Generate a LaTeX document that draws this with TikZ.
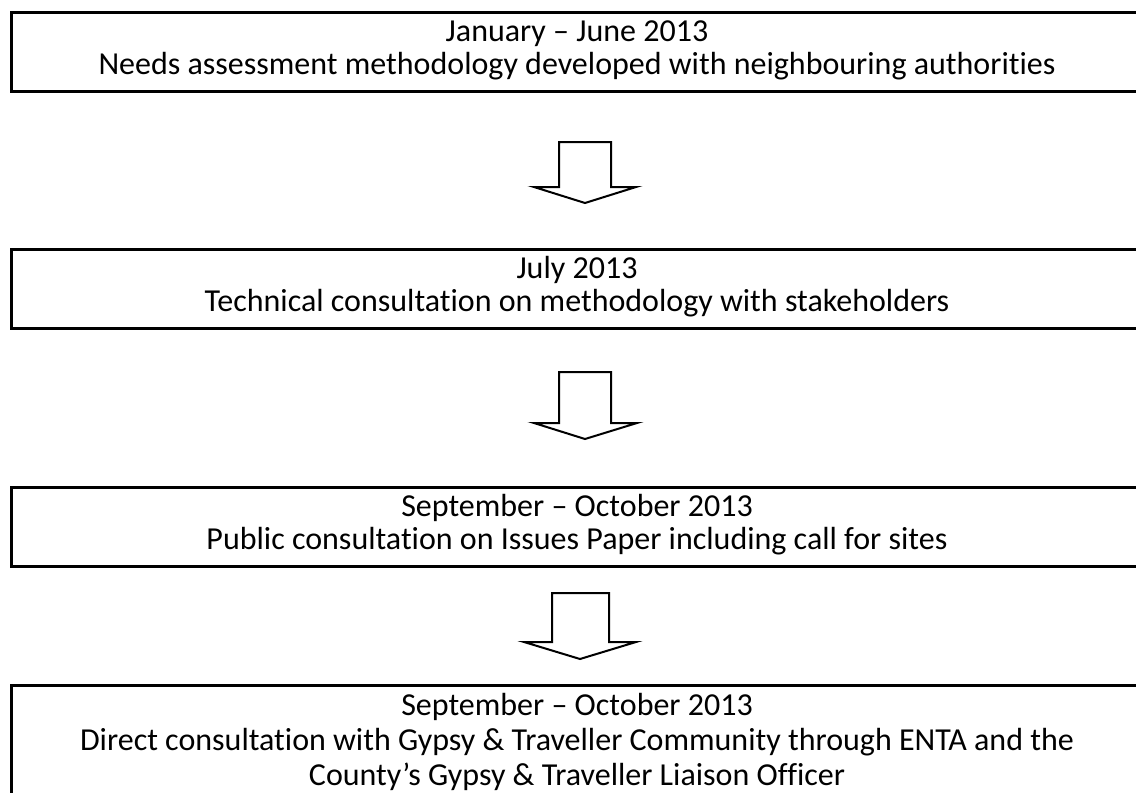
\documentclass[tikz,border=0pt]{standalone}
\usepackage{fontspec}
\setmainfont{Carlito}[Ligatures={NoCommon}]
\begin{document}
\begin{tikzpicture}[x=1pt,y=-1pt,
  stagebox/.style={draw=black,line width=3pt,rectangle,inner sep=0pt,anchor=north west,minimum width=1134pt,minimum height=79pt},
  stagetext/.style={anchor=base,inner sep=0pt,font=\fontsize{32}{33}\selectfont},
  blockarrow/.style={draw=black,line width=2pt,fill=white,line join=miter}]
\useasboundingbox (0,0) rectangle (1136,793);
\clip (0,0) rectangle (1136,793);
\fill[white] (0,0) rectangle (1136,793);
% boxes
\node[stagebox] (b1) at (10,11) {};
\node[stagebox] (b2) at (10,248) {};
\node[stagebox] (b3) at (10,486) {};
\node[stagebox,minimum height=140pt] (b4) at (10,684) {};
% texts
\node[stagetext] (t1a) at (577,41) {January – June 2013};
\node[stagetext] (t1b) at (577,74) {Needs assessment methodology developed with neighbouring authorities};
\node[stagetext] (t2a) at (577,278) {July 2013};
\node[stagetext] (t2b) at (577,311) {Technical consultation on methodology with stakeholders};
\node[stagetext] (t3a) at (577,516) {September – October 2013};
\node[stagetext] (t3b) at (577,549) {Public consultation on Issues Paper including call for sites};
\node[stagetext] (t4a) at (577,715) {September – October 2013};
\node[stagetext] (t4b) at (577,750) {Direct consultation with Gypsy \& Traveller Community through ENTA and the};
\node[stagetext] (t4c) at (577,785) {County’s Gypsy \& Traveller Liaison Officer};
% block arrows
\draw[blockarrow] (559,142) -- (611,142) -- (611,187) -- (636,187) -- (585,203) -- (534,187) -- (559,187) -- cycle;
\draw[blockarrow] (559,372) -- (611,372) -- (611,423) -- (637,423) -- (585,439) -- (534,423) -- (559,423) -- cycle;
\draw[blockarrow] (552,593) -- (609,593) -- (609,642) -- (636,642) -- (580,659) -- (524,642) -- (552,642) -- cycle;
\end{tikzpicture}
\end{document}
